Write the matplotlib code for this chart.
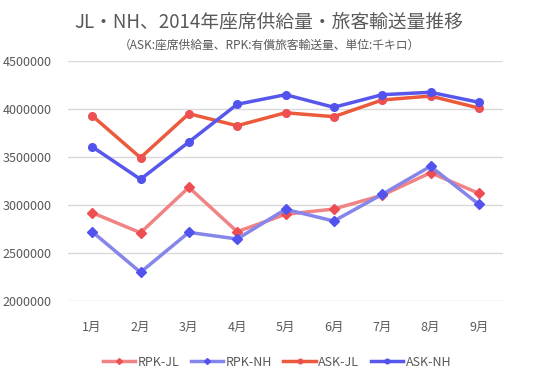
import matplotlib.pyplot as plt

plt.rcParams['font.family'] = ['Noto Sans CJK JP', 'DejaVu Sans']

months = ['1月', '2月', '3月', '4月', '5月', '6月', '7月', '8月', '9月']
rpk_jl = [2920000, 2711000, 3184000, 2722000, 2903000, 2958000, 3101000, 3336000, 3122000]
rpk_nh = [2722000, 2299000, 2715000, 2646000, 2955000, 2833000, 3111000, 3403000, 3007000]
ask_jl = [3930000, 3493000, 3951000, 3826000, 3961000, 3920000, 4094000, 4135000, 4010000]
ask_nh = [3607000, 3268000, 3656000, 4049000, 4149000, 4018000, 4149000, 4174000, 4070000]
yticks = [2000000, 2500000, 3000000, 3500000, 4000000, 4500000]

text_color = '#595959'


def create_chart():
    fig = plt.figure(figsize=(5.38, 3.77), dpi=100)
    ax = fig.add_axes([68 / 538, 76 / 377, 435 / 538, 240 / 377])

    x = range(len(months))
    ax.plot(x, rpk_jl, color='#F08484', linewidth=2.5, marker='D', markersize=5,
            markerfacecolor='#EE4E52', markeredgecolor='#EE4E52', label='RPK-JL', zorder=3)
    ax.plot(x, rpk_nh, color='#8585EA', linewidth=2.5, marker='D', markersize=5,
            markerfacecolor='#5252EE', markeredgecolor='#5252EE', label='RPK-NH', zorder=3)
    ax.plot(x, ask_jl, color='#EC5A3C', linewidth=2.5, marker='o', markersize=5.5,
            markerfacecolor='#EE5052', markeredgecolor='#EE5052', label='ASK-JL', zorder=4)
    ax.plot(x, ask_nh, color='#5757EC', linewidth=2.5, marker='o', markersize=5.5,
            markerfacecolor='#5252EE', markeredgecolor='#5252EE', label='ASK-NH', zorder=4)

    ax.set_xlim(-0.5, len(months) - 0.5)
    ax.set_ylim(2000000, 4500000)
    ax.set_yticks(yticks)
    ax.set_yticklabels([str(v) for v in yticks])
    ax.set_xticks(list(x))
    ax.set_xticklabels(months)
    ax.tick_params(axis='both', length=0, colors=text_color, labelsize=9)
    ax.tick_params(axis='x', pad=14)
    ax.tick_params(axis='y', pad=12)
    for s in ax.spines.values():
        s.set_visible(False)
    ax.grid(axis='y', color='#D9D9D9', linewidth=1)
    ax.set_axisbelow(True)

    fig.text(0.5, 1 - 22 / 377, 'JL・NH、2014年座席供給量・旅客輸送量推移',
             ha='center', va='center', fontsize=13.5, color=text_color)
    fig.text(0.5, 1 - 45 / 377, '（ASK:座席供給量、RPK:有償旅客輸送量、単位:千キロ）',
             ha='center', va='center', fontsize=8.5, color=text_color)

    leg = fig.legend(loc='center', bbox_to_anchor=(0.515, 15 / 377), ncol=4, frameon=False,
                     fontsize=9, handlelength=2.6, columnspacing=0.9, handletextpad=0.2,
                     markerscale=0.6)
    for t in leg.get_texts():
        t.set_color(text_color)

    fig.savefig('out.png', dpi=100)
    plt.close(fig)


def main():
    create_chart()


if __name__ == '__main__':
    main()
